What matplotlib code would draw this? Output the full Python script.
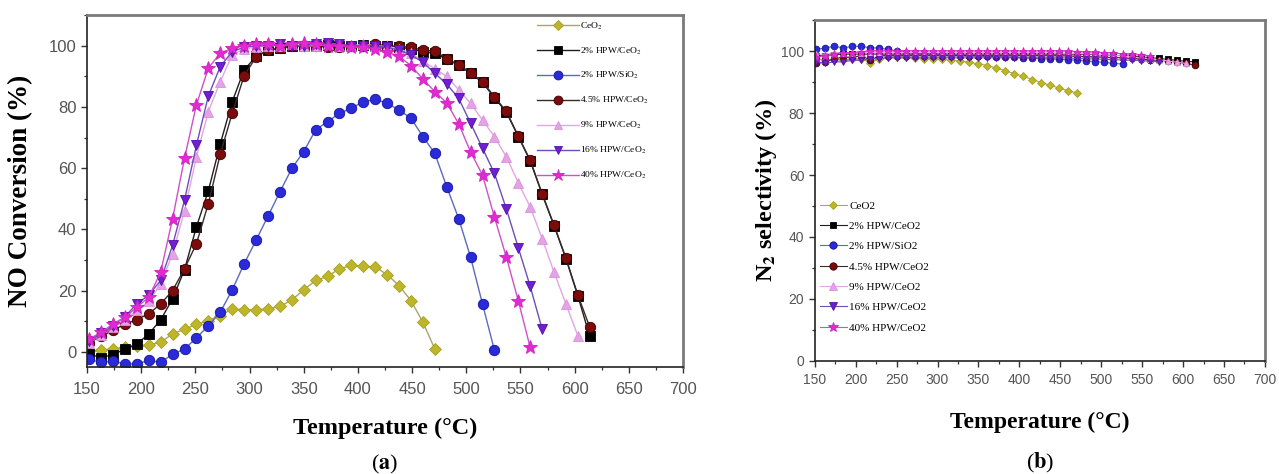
import matplotlib

matplotlib.use("Agg")
import matplotlib.pyplot as plt
from matplotlib.ticker import MultipleLocator

# temperature grid (deg C) shared by all samples
TEMP = [152, 163, 174, 185, 196, 207, 218, 229, 240, 251, 262, 273, 284, 295, 306,
        317, 328, 339, 350, 361, 372, 383, 394, 405, 416, 427, 438, 449, 460, 471,
        482, 493, 504, 515, 526, 537, 548, 559, 570, 581, 592, 603, 614]

LABELS_A = ["CeO$_2$", "2% HPW/CeO$_2$", "2% HPW/SiO$_2$", "4.5% HPW/CeO$_2$",
            "9% HPW/CeO$_2$", "16% HPW/CeO$_2$", "40% HPW/CeO$_2$"]
LABELS_B = ["CeO2", "2% HPW/CeO2", "2% HPW/SiO2", "4.5% HPW/CeO2",
            "9% HPW/CeO2", "16% HPW/CeO2", "40% HPW/CeO2"]

# (a) NO conversion (%)
CEO2_A = [0.3, 0.5, 1.0, 1.4, 2.0, 2.2, 3.1, 5.8, 7.4, 8.9, 10.2, 11.8, 14.0, 13.7, 13.7,
          14.0, 14.8, 16.9, 20.2, 23.3, 24.6, 27.1, 28.2, 27.9, 27.7, 25.2, 21.6, 16.7, 9.6, 0.9]
HPW2_CEO2_A = [-0.8, -1.9, -1.0, 0.9, 2.5, 5.8, 10.4, 17.3, 26.8, 40.8, 52.6, 67.9, 81.7, 92.1, 96.5,
               98.5, 99.3, 99.8, 100.0, 100.0, 100.3, 100.0, 100.0, 100.3, 100.0, 99.8, 99.5, 99.0,
               98.0, 97.5, 95.6, 93.6, 91.0, 88.0, 83.0, 78.3, 70.3, 62.4, 51.5, 41.2, 30.4, 18.2, 5.0]
HPW2_SIO2_A = [-2.5, -3.5, -3.0, -4.0, -4.0, -2.8, -3.5, -0.8, 0.9, 4.5, 8.5, 12.9, 20.2, 28.7, 36.4,
               44.3, 52.2, 59.9, 65.4, 72.5, 75.2, 77.9, 79.6, 81.7, 82.5, 81.2, 79.0, 76.3, 70.3,
               64.8, 53.9, 43.5, 30.9, 15.6, 0.5]
HPW45_A = [3.0, 5.0, 7.0, 9.0, 10.5, 12.4, 15.6, 20.0, 27.1, 35.3, 48.4, 64.6, 77.9, 90.2, 96.3,
           98.5, 99.3, 99.8, 100.0, 100.0, 99.5, 99.5, 100.0, 100.0, 100.5, 100.0, 99.8, 99.5,
           98.5, 98.3, 95.8, 93.8, 91.2, 88.3, 83.3, 78.6, 70.5, 62.6, 51.7, 41.4, 30.6, 18.5, 8.0]
HPW9_A = [3.0, 5.5, 8.0, 10.5, 13.5, 16.5, 22.0, 32.0, 46.0, 63.7, 78.5, 88.3, 97.0, 99.0, 99.5,
          100.0, 100.0, 100.5, 100.0, 100.0, 100.5, 100.0, 100.0, 100.5, 100.0, 99.8, 99.0, 97.5,
          95.0, 92.5, 90.0, 85.6, 81.2, 75.7, 70.3, 63.7, 55.2, 47.3, 37.0, 26.0, 15.6, 5.2]
HPW16_A = [3.5, 6.0, 8.5, 11.5, 15.6, 18.5, 23.3, 34.8, 49.5, 67.5, 83.6, 93.2, 98.1, 99.5, 100.0,
           100.0, 100.5, 100.0, 100.0, 100.5, 101.0, 100.5, 100.0, 100.0, 100.0, 99.5, 98.5, 97.0,
           94.6, 91.0, 87.5, 82.8, 74.7, 66.5, 58.3, 46.7, 34.0, 21.4, 7.4]
HPW40_A = [4.2, 6.3, 9.1, 11.3, 14.5, 17.8, 26.0, 43.5, 63.2, 80.7, 92.7, 97.6, 99.2, 100.0, 100.5,
           100.5, 100.0, 100.5, 101.0, 100.5, 100.0, 100.0, 99.5, 99.5, 99.0, 98.0, 96.5, 93.5,
           89.1, 85.0, 81.3, 74.5, 65.3, 57.7, 44.0, 30.9, 16.7, 1.4]

# (b) N2 selectivity (%)
CEO2_B = [97.5, 97.0, 97.5, 97.0, 97.5, 97.5, 96.2, 97.5, 98.0, 98.0, 98.0, 97.8, 97.5, 97.5, 97.3,
          97.0, 96.8, 96.3, 95.9, 95.3, 94.5, 93.6, 92.7, 91.8, 90.8, 89.8, 88.9, 88.0, 87.2, 86.4]
HPW2_CEO2_B = [98.5, 98.5, 98.8, 99.0, 99.0, 99.0, 99.0, 99.0, 99.0, 99.0, 99.0, 99.0, 99.0, 99.0, 99.0,
               99.0, 99.0, 99.0, 99.0, 99.0, 99.0, 99.0, 99.0, 99.0, 99.0, 99.0, 99.0, 99.0, 99.0,
               99.0, 98.9, 98.8, 98.7, 98.6, 98.5, 98.3, 98.1, 97.9, 97.6, 97.3, 97.0, 96.7, 96.5]
HPW2_SIO2_B = [100.5, 101.0, 101.5, 101.0, 101.5, 101.5, 101.0, 101.0, 100.5, 100.0, 99.5, 99.3, 99.2,
               99.0, 99.0, 98.8, 98.7, 98.5, 98.5, 98.3, 98.2, 98.0, 98.0, 97.8, 97.7, 97.5, 97.5,
               97.3, 97.2, 97.0, 96.8, 96.6, 96.3, 96.0, 95.8]
HPW45_B = [96.0, 96.5, 97.5, 98.0, 98.0, 98.5, 97.0, 98.5, 98.5, 98.5, 98.5, 98.5, 98.5, 98.5, 98.5,
           98.5, 98.5, 98.5, 98.5, 98.5, 98.5, 98.5, 98.5, 98.5, 98.5, 98.5, 98.5, 98.5, 98.4,
           98.3, 98.2, 98.1, 98.0, 97.9, 97.8, 97.6, 97.4, 97.2, 97.0, 96.8, 96.5, 96.0, 95.5]
HPW9_B = [99.0, 99.0, 99.5, 99.5, 99.5, 99.5, 99.5, 99.5, 99.5, 99.5, 99.5, 99.5, 99.5, 99.5, 99.5,
          99.5, 99.5, 99.5, 99.5, 99.5, 99.5, 99.5, 99.5, 99.5, 99.5, 99.5, 99.5, 99.4, 99.3, 99.2,
          99.1, 99.0, 98.8, 98.6, 98.4, 98.1, 97.8, 97.5, 97.2, 96.8, 96.4, 96.0]
HPW16_B = [96.5, 96.0, 96.5, 96.5, 97.0, 97.0, 97.5, 97.5, 97.8, 97.8, 97.8, 97.8, 97.8, 97.8, 97.8,
           97.8, 97.8, 97.8, 97.8, 97.8, 97.8, 97.8, 97.8, 97.8, 97.8, 97.8, 97.8, 97.8, 97.7,
           97.6, 97.5, 97.4, 97.3, 97.2, 97.1, 97.0, 96.9, 96.7, 96.5]
HPW40_B = [98.0, 98.5, 99.0, 99.5, 99.5, 99.8, 100.0, 100.0, 100.0, 100.0, 100.0, 100.0, 100.0, 100.0,
           100.0, 100.0, 100.0, 100.0, 100.0, 100.0, 100.0, 100.0, 100.0, 100.0, 100.0, 100.0, 100.0,
           100.0, 99.9, 99.8, 99.7, 99.6, 99.5, 99.3, 99.1, 98.9, 98.7, 98.5]

SERIES_A = [CEO2_A, HPW2_CEO2_A, HPW2_SIO2_A, HPW45_A, HPW9_A, HPW16_A, HPW40_A]
SERIES_B = [CEO2_B, HPW2_CEO2_B, HPW2_SIO2_B, HPW45_B, HPW9_B, HPW16_B, HPW40_B]

# marker, face colour, edge colour, line colour, size factor
STYLES = [
    ("D", "#BDB62A", "#A8A020", "#A9A66A", 0.85),
    ("s", "#000000", "#000000", "#202020", 0.9),
    ("o", "#2A2AD8", "#1212A0", "#5A6AC0", 1.0),
    ("o", "#7A0C0C", "#3A0000", "#3A2A2A", 1.0),
    ("^", "#E6A2E6", "#DA90DA", "#E2A6E2", 1.0),
    ("v", "#6E1FD0", "#5010A8", "#6A50B8", 1.0),
    ("*", "#E22AD2", "#D020C0", "#D050C8", 1.35),
]

SERIF = ["Liberation Serif", "DejaVu Serif"]
SANS = ["Liberation Sans", "DejaVu Sans"]
TICK_COLOR = "#555555"

plt.rcParams["mathtext.fontset"] = "stix"


def style_axes(ax, tick_size, pad):
    ax.set_xlim(150, 700)
    ax.xaxis.set_major_locator(MultipleLocator(50))
    ax.xaxis.set_minor_locator(MultipleLocator(25))
    ax.yaxis.set_major_locator(MultipleLocator(20))
    ax.yaxis.set_minor_locator(MultipleLocator(10))
    ax.tick_params(which="major", direction="out", length=4, width=1.0,
                   colors="#333333", labelcolor=TICK_COLOR, labelsize=tick_size)
    ax.tick_params(axis="x", which="major", pad=pad)
    ax.tick_params(which="minor", direction="out", length=2.5, width=0.9, colors="#333333")
    for lab in ax.get_xticklabels() + ax.get_yticklabels():
        lab.set_family(SANS)
    for side in ("left", "bottom"):
        ax.spines[side].set_color("#222222")
        ax.spines[side].set_linewidth(1.2)
    for side in ("top", "right"):
        ax.spines[side].set_color("#7a7a7a")
        ax.spines[side].set_linewidth(2.0)


def draw_series(ax, series, labels, ms, lw):
    for values, label, (mk, fc, ec, lc, sf) in zip(series, labels, STYLES):
        ax.plot(TEMP[:len(values)], values, color=lc, linewidth=lw,
                marker=mk, markersize=ms * sf, markerfacecolor=fc,
                markeredgecolor=ec, markeredgewidth=0.6, label=label)


fig = plt.figure(figsize=(12.79, 4.74), dpi=100)

# ---- panel (a)
ax_a = fig.add_axes([0.068, 0.2257, 0.466, 0.7423])
draw_series(ax_a, SERIES_A, LABELS_A, ms=7.5, lw=1.0)
ax_a.set_ylim(-5, 110)
style_axes(ax_a, 12, 7)
ax_a.set_ylabel("NO Conversion (%)", family=SERIF, fontweight="bold", fontsize=19.5)
ax_a.set_xlabel("Temperature (°C)", family=SERIF, fontweight="bold", fontsize=17.5)
ax_a.yaxis.set_label_coords(-0.09, 0.5)
ax_a.xaxis.set_label_coords(0.5, -0.145)
ax_a.legend(loc="upper left", bbox_to_anchor=(0.755, 0.985), frameon=False,
            prop={"family": SERIF, "size": 6.8}, handlelength=4.4, handletextpad=0.2,
            labelspacing=1.45, borderpad=0, borderaxespad=0, markerscale=0.85)

# ---- panel (b)
ax_b = fig.add_axes([0.637, 0.2384, 0.352, 0.7194])
draw_series(ax_b, SERIES_B, LABELS_B, ms=4.8, lw=0.8)
ax_b.set_ylim(0, 110)
style_axes(ax_b, 10, 5)
ax_b.set_ylabel("N$_\\mathbf{2}$ selectivity (%)", family=SERIF, fontweight="bold", fontsize=17.5)
ax_b.set_xlabel("Temperature (°C)", family=SERIF, fontweight="bold", fontsize=17)
ax_b.yaxis.set_label_coords(-0.08, 0.5)
ax_b.xaxis.set_label_coords(0.5, -0.15)
ax_b.legend(loc="upper left", bbox_to_anchor=(0.012, 0.47), frameon=False,
            prop={"family": SERIF, "size": 8}, handlelength=2.4, handletextpad=0.2,
            labelspacing=0.95, borderpad=0, borderaxespad=0, markerscale=1.1)

fig.text(385 / 1279, 1 - 464 / 474, "($\\mathbf{a}$)", ha="center", va="center",
         family=SERIF, fontsize=16)
fig.text(1040 / 1279, 1 - 463 / 474, "($\\mathbf{b}$)", ha="center", va="center",
         family=SERIF, fontsize=16)

fig.savefig("out.png", dpi=100)
